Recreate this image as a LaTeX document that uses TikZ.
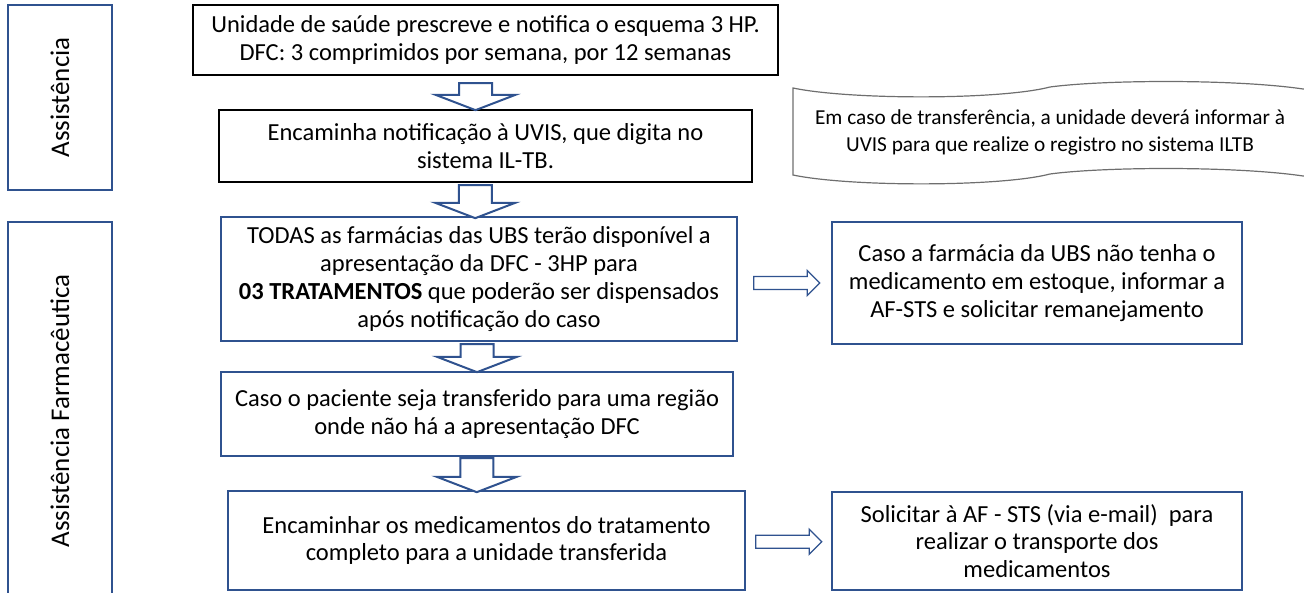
\documentclass[tikz,border=0pt]{standalone}
\usepackage{fontspec}
\setmainfont{Carlito}
\usetikzlibrary{shapes.arrows,calc}

\definecolor{boxblue}{HTML}{2F528F}
\definecolor{notegray}{HTML}{6E6E6E}

\tikzset{
  lane/.style={draw=boxblue, line width=1.5pt, rotate=90, font=\fontsize{27}{32}\selectfont},
  stepbox/.style={draw=boxblue, line width=1.5pt, align=center, inner sep=0pt, font=\fontsize{24.5}{27.8}\selectfont},
  blackbox/.style={stepbox, draw=black},
  downarr/.style={single arrow, draw=boxblue, fill=white, line width=2pt, rotate=-90, inner xsep=0pt, inner ysep=15.5pt,
    single arrow head extend=23.5pt, single arrow tip angle=138, single arrow head indent=0pt},
  sidearr/.style={single arrow, draw=boxblue, fill=white, line width=1.3pt, inner xsep=0pt, inner ysep=5.8pt,
    single arrow head extend=6pt, minimum height=66pt},
}

\begin{document}
\begin{tikzpicture}[x=1pt,y=-1pt]
  \useasboundingbox (0,0) rectangle (1304,593);

  % lanes
  \node [lane, minimum width=185pt, minimum height=104pt] (asst) at (60,97.5) {Assistência};
  \node [lane, minimum width=378pt, minimum height=104pt] (farm) at (60,411) {Assistência Farmacêutica};

  % main column
  \node [blackbox, minimum width=585pt, minimum height=70pt] (b1) at (485.5,40)
    {Unidade de saúde prescreve e notifica o esquema 3 HP.\\DFC: 3 comprimidos por semana, por 12 semanas};
  \node [blackbox, minimum width=533pt, minimum height=72pt] (b2) at (485.5,146)
    {Encaminha notificação à UVIS, que digita no\\sistema IL-TB.};
  \node [stepbox, minimum width=516pt, minimum height=124pt] (b3) at (479,279)
    {TODAS as farmácias das UBS terão disponível a\\apresentação da DFC - 3HP para\\\textbf{03 TRATAMENTOS} que poderão ser dispensados\\após notificação do caso};
  \node [stepbox, minimum width=512pt, minimum height=84pt] (b4) at (477,414)
    {Caso o paciente seja transferido para uma região\\onde não há a apresentação DFC};
  \node [stepbox, minimum width=517pt, minimum height=99pt] (b5) at (486.5,540.5)
    {Encaminhar os medicamentos do tratamento\\completo para a unidade transferida};

  % right column
  \node [stepbox, minimum width=410pt, minimum height=122pt] (r1) at (1037,283)
    {Caso a farmácia da UBS não tenha o\\medicamento em estoque, informar a\\AF-STS e solicitar remanejamento};
  \node [stepbox, minimum width=410pt, minimum height=98pt] (r2) at (1037,541)
    {Solicitar à AF - STS (via e-mail)\ \ para\\realizar o transporte dos\\medicamentos};

  % wave note
  \draw [notegray, line width=1.2pt] (793,88) .. controls (850,100) and (1000,100) .. (1050,87)
    .. controls (1110,79) and (1260,79) .. (1320,92) -- (1320,179)
    .. controls (1260,166) and (1110,166) .. (1050,174)
    .. controls (1000,187) and (850,187) .. (793,175) -- cycle;
  \node [font=\fontsize{21.3}{27}\selectfont, align=center] (note) at (1050,132)
    {Em caso de transferência, a unidade deverá informar à\\UVIS para que realize o registro no sistema ILTB};

  % block arrows
  \node [downarr, minimum height=27pt] (a1) at ($(b1.south)!.5!(b2.north)+(-10,1)$) {};
  \node [downarr, minimum height=33pt] (a2) at ($(b2.south)!.5!(b3.north)+(-7,-1)$) {};
  \node [downarr, minimum height=28pt] (a3) at ($(b3.south)!.5!(b4.north)+(-1,-1.5)$) {};
  \node [downarr, minimum height=34pt] (a4) at ($(b4.south)!.5!(b5.north)+(-5,-1.5)$) {};

  \node [sidearr] (s1) at ($(b3.east)!.5!(r1.west)+(-1,2)$) {};
  \node [sidearr] (s2) at ($(b5.east)!.5!(r2.west)+(-3,1)$) {};

\end{tikzpicture}
\end{document}
